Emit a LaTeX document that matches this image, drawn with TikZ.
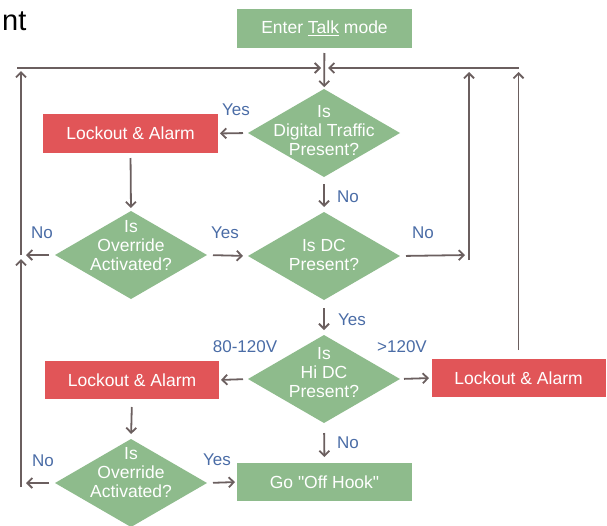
\documentclass[tikz,border=0pt]{standalone}
\usepackage{fontspec}
\setmainfont{Liberation Sans}[Ligatures=TeXOff]
\usetikzlibrary{shapes.geometric,arrows.meta}
\definecolor{boxgreen}{HTML}{8EBB8C}
\definecolor{boxred}{HTML}{E15558}
\definecolor{lblblue}{HTML}{4A6CA6}
\definecolor{arrcol}{HTML}{6B5F5F}
\begin{document}
\begin{tikzpicture}[x=1pt,y=-1pt,
  gbox/.style={fill=boxgreen, draw=none, minimum width=175pt, minimum height=39pt, inner sep=0pt, outer sep=0pt, text=white, font=\fontsize{17.5}{19}\selectfont},
  rbox/.style={gbox, fill=boxred},
  dia/.style={diamond, fill=boxgreen, draw=none, minimum width=152pt, minimum height=88pt, inner sep=0pt, outer sep=0pt},
  dtext/.style={text=white, align=center, font=\fontsize{17.5}{19}\selectfont, inner sep=0pt},
  lbl/.style={text=lblblue, font=\fontsize{17}{19}\selectfont, inner sep=0pt},
  arr/.style={draw=arrcol, line width=1.8pt, -{Straight Barb[length=5pt,width=10pt]}},
]
\useasboundingbox (0,0) rectangle (607,525);
\clip (0,0) rectangle (607,525);

% top-left fragment
\node[anchor=base west, inner sep=0pt, font=\fontsize{29}{32}\selectfont] (frag) at (2,30) {nt};

% boxes
\node[gbox] (enter) at (324.5,28.5) {Enter \underline{Talk} mode};
\node[rbox] (lock1) at (130.5,133.5) {Lockout \& Alarm};
\node[rbox, minimum width=174pt, minimum height=38pt] (lock2) at (132,380) {Lockout \& Alarm};
\node[rbox, minimum width=174pt, minimum height=38pt] (lock3) at (518.5,378) {Lockout \& Alarm};
\node[gbox, minimum height=38pt] (off) at (324.5,482) {Go "Off Hook"};

% diamonds
\node[dia] (d1) at (324,133) {};
\node[dtext] (t1) at (324,131) {Is\\Digital Traffic\\Present?};
\node[dia] (d2) at (131,255) {};
\node[dtext] (t2) at (131,246) {Is\\Override\\Activated?};
\node[dia] (d3) at (324,256) {};
\node[dtext] (t3) at (324,254.5) {Is DC\\Present?};
\node[dia] (d4) at (324,379) {};
\node[dtext] (t4) at (324,373) {Is\\Hi DC\\Present?};
\node[dia] (d5) at (131,483) {};
\node[dtext] (t5) at (131,473) {Is\\Override\\Activated?};

% loop coordinates
\coordinate (cL) at (21,255);
\coordinate (cLtop) at (21,71);
\coordinate (cLstart) at (17,68);
\coordinate (cM1) at (321,68);
\coordinate (cM2) at (328,68);
\coordinate (cL5) at (21,483);
\coordinate (cLb) at (21,487);
\coordinate (cLbtop) at (21,259);
\coordinate (cR1) at (469,255);
\coordinate (cR1b) at (469,260);
\coordinate (cR1top) at (469,72);
\coordinate (cR2top) at (518.5,72);
\coordinate (cRstart) at (518.5,68);

% main connectors
\draw[arr, shorten <=5pt, shorten >=2pt] (enter) -- (d1);
\draw[arr, shorten <=5pt, shorten >=2pt] (d1.west) -- (lock1.east);
\draw[arr, shorten <=7pt, shorten >=5pt] (d1.south) -- (d3.north);
\draw[arr, shorten <=5pt, shorten >=3pt] (lock1.south) -- (d2.north);
\draw[arr, shorten <=6pt, shorten >=5pt] (d2.east) -- (d3.west);
\draw[arr, shorten <=8pt, shorten >=5pt] (d3.south) -- (d4.north);
\draw[arr, shorten <=5pt, shorten >=2pt] (d4.west) -- (lock2.east);
\draw[arr, shorten <=4pt, shorten >=2.5pt] (d4.east) -- (lock3.west);
\draw[arr, shorten <=10pt, shorten >=6pt] (d4.south) -- (off.north);
\draw[arr, shorten <=8pt, shorten >=5pt] (lock2.south) -- (d5.north);
\draw[arr, shorten <=6pt, shorten >=2pt] (d5.east) -- (off.west);

% left loops
\draw[arr, shorten <=6pt, shorten >=5pt] (d2.west) -- (cL);
\draw[arr] (cL) -- (cLtop);
\draw[arr] (cLstart) -- (cM1);
\draw[arr, shorten <=6pt, shorten >=5pt] (d5.west) -- (cL5);
\draw[arr] (cLb) -- (cLbtop);

% right loops
\draw[arr, shorten <=6pt, shorten >=4pt] (d3.east) -- (cR1);
\draw[arr] (cR1b) -- (cR1top);
\draw[arr, shorten <=9pt] (lock3.north) -- (cR2top);
\draw[arr] (cRstart) -- (cM2);

% labels
\node[lbl] (l1) at (236,110) {Yes};
\node[lbl] (l2) at (348,197) {No};
\node[lbl] (l3) at (42,233) {No};
\node[lbl] (l4) at (225,233) {Yes};
\node[lbl] (l5) at (423,233) {No};
\node[lbl] (l6) at (352,320) {Yes};
\node[lbl] (l7) at (245,347) {80-120V};
\node[lbl] (l8) at (402,347) {>120V};
\node[lbl] (l9) at (348,443) {No};
\node[lbl] (l10) at (43,461) {No};
\node[lbl] (l11) at (217,460) {Yes};
\end{tikzpicture}
\end{document}
